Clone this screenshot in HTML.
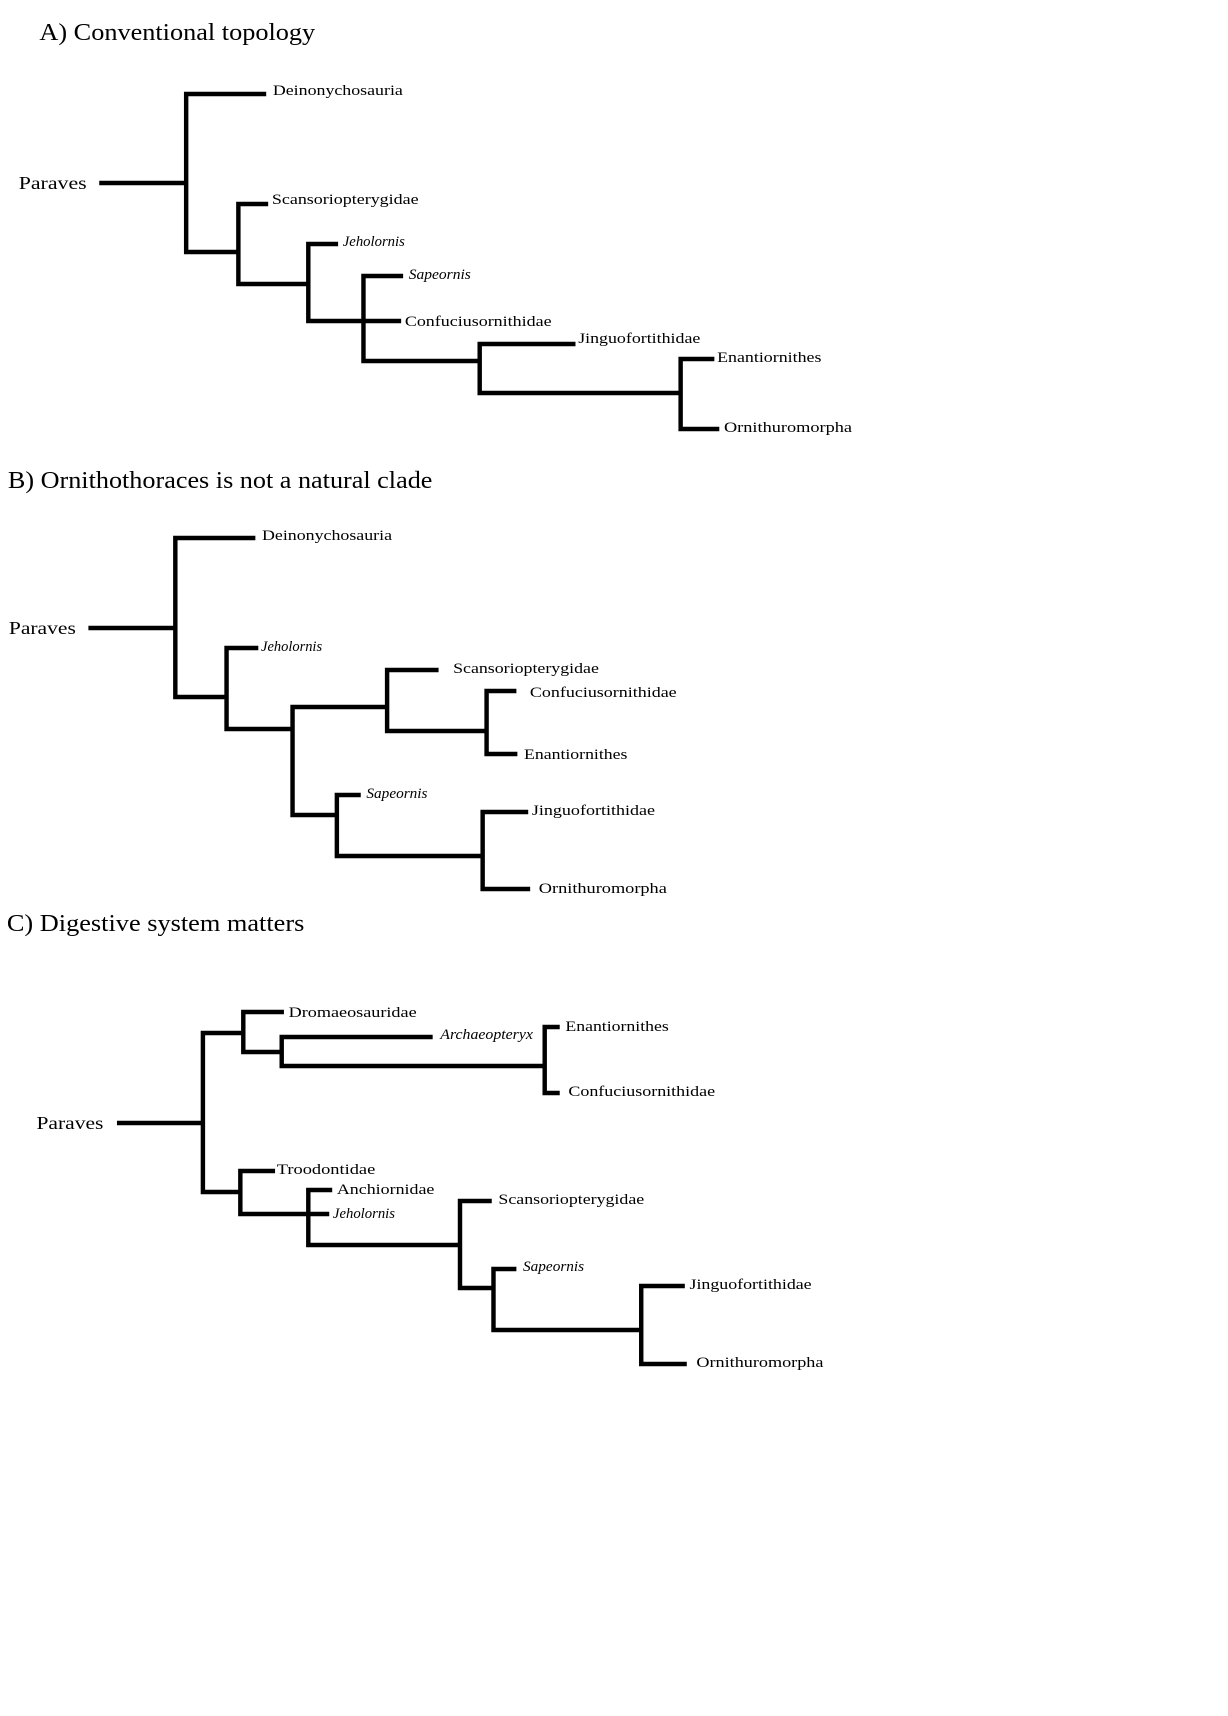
<!DOCTYPE html>
<html><head><meta charset="utf-8"><style>
html,body{margin:0;padding:0;background:#fff;}
svg{display:block;}
text{font-family:"Liberation Serif",serif;fill:#000;}
.l{font-size:15px;}
.i{font-size:15px;font-style:italic;}
.p{font-size:18px;}
.t{font-size:24px;}
</style></head><body>
<svg width="1228" height="1716" viewBox="0 0 1228 1716" xmlns="http://www.w3.org/2000/svg">
<g transform="scale(0.985,1)">
<g stroke="#000" stroke-width="4.5" stroke-linecap="square" fill="none">
<!-- A -->
<path d="M103 183H189M189 94V252M189 94H268M189 252H242M242 204V284M242 204H270M242 284H313M313 244V321M313 244H341M313 321H369M369 276V361M369 276H407M369 321H405M369 361H487M487 344V393M487 344H582M487 393H691M691 359V429M691 359H723M691 429H728"/>
<!-- B -->
<path d="M92 628H178M178 538V697M178 538H257M178 697H230M230 648V729M230 648H260M230 729H297M297 707V815M297 707H393M393 670V731M393 670H443M393 731H494M494 691V754M494 691H522M494 754H523M297 815H342M342 795V856M342 795H364M342 856H490M490 812V889M490 812H534M490 889H536"/>
<!-- C -->
<path d="M121 1123H206M206 1033V1192M206 1033H247M247 1012V1052M247 1012H286M247 1052H286M286 1037V1066M286 1037H437M286 1066H553M553 1027V1093M553 1027H566M553 1093H566M206 1192H244M244 1171V1214M244 1171H277M244 1214H313M313 1190V1245M313 1190H335M313 1214H332M313 1245H467M467 1201V1288M467 1201H497M467 1288H501M501 1269V1330M501 1269H522M501 1330H651M651 1286V1364M651 1286H693M651 1364H695"/>
</g>
<!-- A labels -->
<text class="t" x="40" y="40" textLength="280" lengthAdjust="spacingAndGlyphs">A) Conventional topology</text>
<text class="p" x="19" y="189" textLength="69" lengthAdjust="spacingAndGlyphs">Paraves</text>
<text class="l" x="277" y="95" textLength="132" lengthAdjust="spacingAndGlyphs">Deinonychosauria</text>
<text class="l" x="276" y="204" textLength="149" lengthAdjust="spacingAndGlyphs">Scansoriopterygidae</text>
<text class="i" x="348" y="246" textLength="63" lengthAdjust="spacingAndGlyphs">Jeholornis</text>
<text class="i" x="415" y="279" textLength="63" lengthAdjust="spacingAndGlyphs">Sapeornis</text>
<text class="l" x="411" y="326" textLength="149" lengthAdjust="spacingAndGlyphs">Confuciusornithidae</text>
<text class="l" x="587" y="343" textLength="124" lengthAdjust="spacingAndGlyphs">Jinguofortithidae</text>
<text class="l" x="728" y="362" textLength="106" lengthAdjust="spacingAndGlyphs">Enantiornithes</text>
<text class="l" x="735" y="432" textLength="130" lengthAdjust="spacingAndGlyphs">Ornithuromorpha</text>
<!-- B labels -->
<text class="t" x="8" y="488" textLength="431" lengthAdjust="spacingAndGlyphs">B) Ornithothoraces is not a natural clade</text>
<text class="p" x="9" y="634" textLength="68" lengthAdjust="spacingAndGlyphs">Paraves</text>
<text class="l" x="266" y="540" textLength="132" lengthAdjust="spacingAndGlyphs">Deinonychosauria</text>
<text class="i" x="265" y="651" textLength="62" lengthAdjust="spacingAndGlyphs">Jeholornis</text>
<text class="l" x="460" y="673" textLength="148" lengthAdjust="spacingAndGlyphs">Scansoriopterygidae</text>
<text class="l" x="538" y="697" textLength="149" lengthAdjust="spacingAndGlyphs">Confuciusornithidae</text>
<text class="l" x="532" y="759" textLength="105" lengthAdjust="spacingAndGlyphs">Enantiornithes</text>
<text class="i" x="372" y="798" textLength="62" lengthAdjust="spacingAndGlyphs">Sapeornis</text>
<text class="l" x="540" y="815" textLength="125" lengthAdjust="spacingAndGlyphs">Jinguofortithidae</text>
<text class="l" x="547" y="893" textLength="130" lengthAdjust="spacingAndGlyphs">Ornithuromorpha</text>
<!-- C labels -->
<text class="t" x="7" y="931" textLength="302" lengthAdjust="spacingAndGlyphs">C) Digestive system matters</text>
<text class="p" x="37" y="1129" textLength="68" lengthAdjust="spacingAndGlyphs">Paraves</text>
<text class="l" x="293" y="1017" textLength="130" lengthAdjust="spacingAndGlyphs">Dromaeosauridae</text>
<text class="i" x="447" y="1039" textLength="94" lengthAdjust="spacingAndGlyphs">Archaeopteryx</text>
<text class="l" x="574" y="1031" textLength="105" lengthAdjust="spacingAndGlyphs">Enantiornithes</text>
<text class="l" x="577" y="1096" textLength="149" lengthAdjust="spacingAndGlyphs">Confuciusornithidae</text>
<text class="l" x="281" y="1174" textLength="100" lengthAdjust="spacingAndGlyphs">Troodontidae</text>
<text class="l" x="342" y="1194" textLength="99" lengthAdjust="spacingAndGlyphs">Anchiornidae</text>
<text class="i" x="338" y="1218" textLength="63" lengthAdjust="spacingAndGlyphs">Jeholornis</text>
<text class="l" x="506" y="1204" textLength="148" lengthAdjust="spacingAndGlyphs">Scansoriopterygidae</text>
<text class="i" x="531" y="1271" textLength="62" lengthAdjust="spacingAndGlyphs">Sapeornis</text>
<text class="l" x="700" y="1289" textLength="124" lengthAdjust="spacingAndGlyphs">Jinguofortithidae</text>
<text class="l" x="707" y="1367" textLength="129" lengthAdjust="spacingAndGlyphs">Ornithuromorpha</text>
</g>
</svg>
</body></html>
